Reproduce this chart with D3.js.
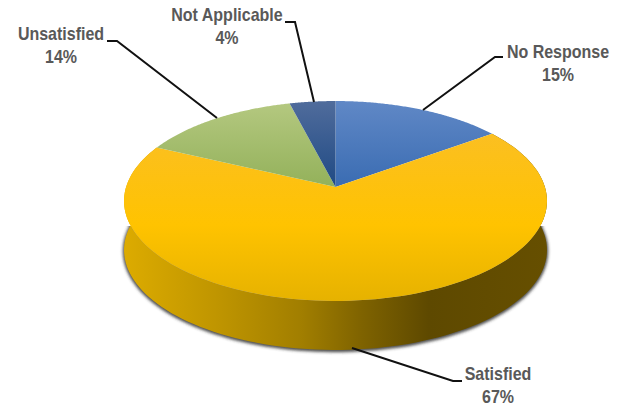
<!DOCTYPE html>
<html>
<head>
<meta charset="utf-8">
<script src="https://cdn.jsdelivr.net/npm/d3@7/dist/d3.min.js"></script>
<style>
html,body{margin:0;padding:0;background:#fff;}
svg{display:block;}
text{font-family:"Liberation Sans",Arial,sans-serif;font-weight:700;font-size:18px;fill:#595959;text-anchor:middle;}
</style>
</head>
<body>
<svg id="chart" width="620" height="406"></svg>
<script>
// Survey response shares, clockwise from twelve o'clock
const categories = ["No Response", "Satisfied", "Unsatisfied", "Not Applicable"];
const shares = [15, 67, 14, 4];

const topStops = [
  [["0%", "#6088c6"], ["100%", "#3a6cb2"]],
  [["0%", "#fbbf22"], ["55%", "#ffc300"], ["100%", "#e6b200"]],
  [["0%", "#b4c880"], ["100%", "#93b15a"]],
  [["0%", "#506c9c"], ["100%", "#1f4a84"]]
];
const topGradientSpans = [[101, 187], [132, 301], [103, 187], [101, 187]];
const wallStops = [
  ["0%", "#dcab00"], ["22%", "#bf9500"], ["42%", "#a17e00"],
  ["56%", "#7f6300"], ["72%", "#5e4900"], ["100%", "#664f00"]
];

// Callout layout: label centre, line anchors, ordered as categories
const labelCentres = [[558, 52], [498, 374], [61, 34], [227, 15]];
const leaders = [
  [[503, 57], [495, 57], [423, 110]],
  [[462, 381], [453, 381], [352, 348]],
  [[107, 41], [117, 41], [217, 118]],
  [[285, 22], [295, 22], [314, 102]]
];

const svg = d3.select("#chart");
const defs = svg.append("defs");

// Tilted disc: a circle seen in perspective, so near parts read larger
const centre = {x: 335.5, y: 187};
const radiusX = 209.4, radiusY = 98, tilt = 0.14, depth = 49;
const project = (theta, drop = 0) => {
  const w = 1 + tilt * Math.cos(theta);
  return [centre.x + radiusX * Math.sin(theta) / w,
          centre.y - radiusY * Math.cos(theta) / w + drop];
};
const rimPoints = (a0, a1, drop = 0) =>
  d3.range(0, 121).map(i => project(a0 + (a1 - a0) * i / 120, drop));

const line = d3.line();
const slices = d3.pie().sort(null).value(d => d)(shares);

function gradient(id, stops, x1, y1, x2, y2) {
  const g = defs.append("linearGradient").attr("id", id)
    .attr("gradientUnits", "userSpaceOnUse")
    .attr("x1", x1).attr("y1", y1).attr("x2", x2).attr("y2", y2);
  stops.forEach(s => g.append("stop").attr("offset", s[0]).attr("stop-color", s[1]));
}

slices.forEach((s, i) => {
  gradient("top" + i, topStops[i], 0, topGradientSpans[i][0], 0, topGradientSpans[i][1]);
});
gradient("wall", wallStops, 125, 0, 547, 0);

defs.append("filter").attr("id", "soft")
  .attr("x", "-10%").attr("y", "-10%").attr("width", "120%").attr("height", "120%")
  .append("feGaussianBlur").attr("stdDeviation", 1.5);

// Shadow stays on the lower part of the wall, clear of the disc's rim
defs.append("clipPath").attr("id", "below-rim")
  .append("rect").attr("x", 0).attr("y", 226).attr("width", 620).attr("height", 180);

// The visible side wall belongs to the big front slice
const front = slices[1];
const wallPath = [
  ...rimPoints(front.startAngle, front.endAngle),
  ...rimPoints(front.endAngle, front.startAngle, depth)
];

// Soft contact shadow hugging the wall's outer edge
svg.append("g")
  .attr("clip-path", "url(#below-rim)")
  .append("path")
  .attr("d", line(wallPath) + "Z")
  .attr("fill", "#333")
  .attr("stroke", "#333")
  .attr("stroke-width", 2.5)
  .attr("stroke-opacity", 0.8)
  .attr("fill-opacity", 0.8)
  .attr("filter", "url(#soft)")
  .attr("transform", "translate(0,1)");

svg.append("path")
  .attr("d", line(wallPath) + "Z")
  .attr("fill", "url(#wall)");

svg.append("g").selectAll("path")
  .data(slices)
  .join("path")
  .attr("d", d => line([[centre.x, centre.y], ...rimPoints(d.startAngle, d.endAngle)]) + "Z")
  .attr("fill", (d, i) => `url(#top${i})`);

svg.append("g").selectAll("path")
  .data(leaders)
  .join("path")
  .attr("d", d => line(d))
  .attr("fill", "none")
  .attr("stroke", "#111")
  .attr("stroke-width", 2);

// Condensed bold labels: name on the first line, share beneath it
const labels = svg.append("g").selectAll("text")
  .data(categories)
  .join("text")
  .attr("transform", (d, i) => `translate(${labelCentres[i][0]},${labelCentres[i][1] + 6}) scale(0.89,1)`);
labels.append("tspan").text(d => d);
labels.append("tspan")
  .attr("x", 0)
  .attr("dy", 23)
  .text((d, i) => shares[i] + "%");
</script>
</body>
</html>
